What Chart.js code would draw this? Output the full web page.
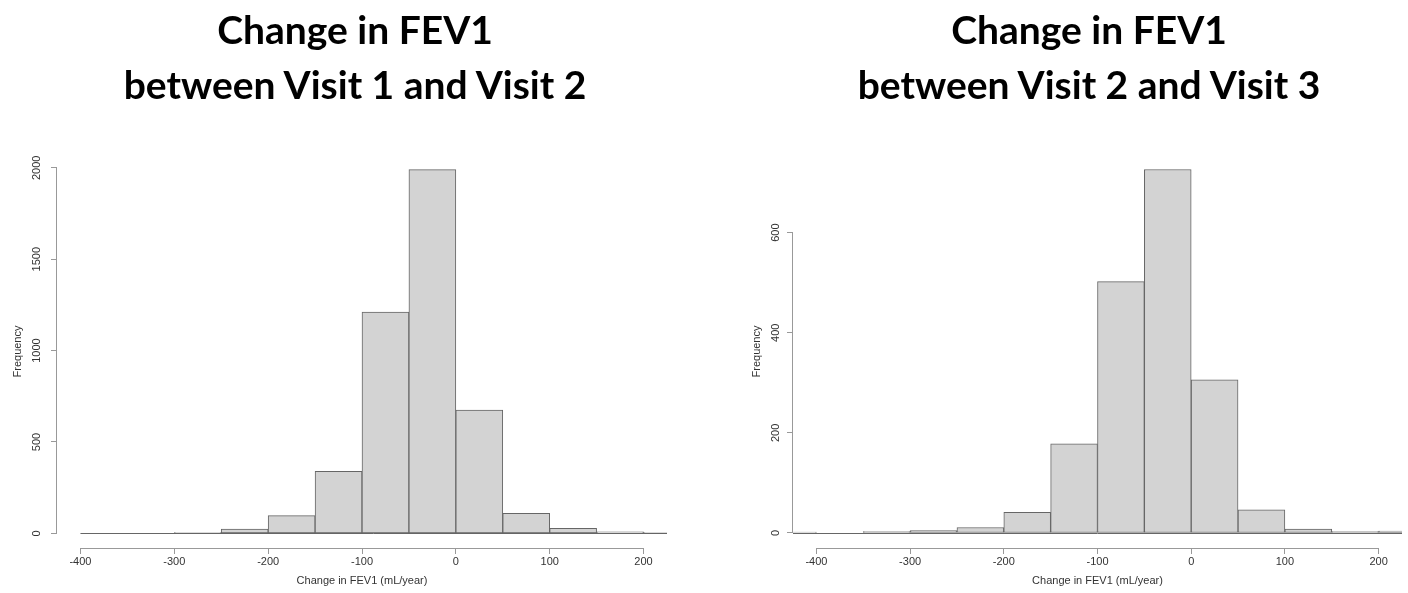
<!DOCTYPE html>
<html lang="en">
<head>
<meta charset="UTF-8">
<title>Change in FEV1</title>
<style>
  html, body { margin: 0; padding: 0; background: #fff; }
  body { width: 1408px; height: 593px; position: relative; overflow: hidden; }
  .panel { position: absolute; top: 0; width: 704px; height: 593px; }
  .title { position: absolute; top: 2px; font-family: Lato, sans-serif; font-weight: 700;
           font-size: 39px; line-height: 55px; text-align: center; color: #000; }
</style>
</head>
<body>
<div class="panel" style="left:0"><canvas id="visit12"></canvas></div>
<div class="panel" style="left:704px"><canvas id="visit23"></canvas></div>
<div class="title" style="left:0;width:710px">Change in FEV1<br>between Visit 1 and Visit 2</div>
<div class="title" style="left:770px;width:638px">Change in FEV1<br>between Visit 2 and Visit 3</div>

<script src="https://cdn.jsdelivr.net/npm/chart.js"></script>
<script>
// lower edge of each 50 mL/year bin, and the count in it
const binStarts12 = [-400, -350, -300, -250, -200, -150, -100, -50, 0, 50, 100, 150, 200];
const counts12    = [0, 0, 4, 24, 97, 340, 1211, 1990, 674, 110, 27, 8, 4];

const binStarts23 = [-450, -400, -350, -300, -250, -200, -150, -100, -50, 0, 50, 100, 150, 200];
const counts23    = [2, 0, 3, 5, 11, 41, 178, 502, 726, 306, 46, 8, 3, 4];

const xTicks   = [-400, -300, -200, -100, 0, 100, 200];
const yTicks12 = [0, 500, 1000, 1500, 2000];
const yTicks23 = [0, 200, 400, 600];
const binWidth = 50;

Chart.defaults.font.family = '"Liberation Sans", Arial, sans-serif';
Chart.defaults.font.size = 11;
Chart.defaults.color = '#333';

// R-style axes: the axis line only runs from first to last tick,
// and empty bins still show as a flat line at zero
const rAxes = {
    id: 'rAxes',
    beforeDatasetsDraw(chart, args, opts) {
        const {ctx, chartArea, scales: {x, y}} = chart;
        ctx.save();
        ctx.lineWidth = 1;
        ctx.strokeStyle = '#666';
        const y0 = Math.round(y.getPixelForValue(0)) + 0.5;
        ctx.beginPath();
        ctx.moveTo(Math.max(x.getPixelForValue(opts.from), chartArea.left), y0);
        ctx.lineTo(chartArea.right, y0);
        ctx.stroke();

        ctx.strokeStyle = '#999';
        const ty = y.ticks, tx = x.ticks;
        const ax = Math.round(chartArea.left) - 0.5;
        const ay = Math.round(chartArea.bottom) + 0.5;
        ctx.beginPath();
        ctx.moveTo(ax, y.getPixelForValue(ty[0].value));
        ctx.lineTo(ax, y.getPixelForValue(ty[ty.length - 1].value));
        ctx.moveTo(x.getPixelForValue(tx[0].value), ay);
        ctx.lineTo(x.getPixelForValue(tx[tx.length - 1].value), ay);
        ctx.stroke();
        ctx.restore();
    }
};

function histogram(id, starts, counts, yTicks, yMin, yMax, pad, yWidth) {
    return new Chart(document.getElementById(id), {
        type: 'bar',
        data: {
            datasets: [{
                data: starts.map((s, i) => ({x: s + binWidth / 2, y: counts[i]})),
                backgroundColor: '#d3d3d3',
                borderColor: '#666',
                borderWidth: 1,
                borderSkipped: false,
                barPercentage: 1,
                categoryPercentage: 1
            }]
        },
        options: {
            responsive: true,
            maintainAspectRatio: false,
            animation: false,
            layout: { padding: pad },
            plugins: {
                legend: { display: false },
                tooltip: { enabled: false },
                rAxes: { from: starts[0] }
            },
            scales: {
                x: {
                    type: 'linear',
                    min: -425,
                    max: 225,
                    offset: false,
                    afterBuildTicks: s => { s.ticks = xTicks.map(v => ({value: v})); },
                    afterFit: s => { s.height = 45; },
                    border: { display: false },
                    grid: { offset: false, drawOnChartArea: false, tickLength: 6, color: '#999' },
                    ticks: { padding: 1, maxRotation: 0, autoSkip: false, callback: v => String(v) },
                    title: {
                        display: true,
                        text: 'Change in FEV1 (mL/year)',
                        padding: { top: 0, bottom: 5 }
                    }
                },
                y: {
                    min: yMin,
                    max: yMax,
                    afterBuildTicks: s => { s.ticks = yTicks.map(v => ({value: v})); },
                    afterFit: s => { s.width = yWidth; },
                    border: { display: false },
                    grid: { drawOnChartArea: false, tickLength: 6, color: '#999' },
                    ticks: {
                        minRotation: 90,
                        maxRotation: 90,
                        crossAlign: 'center',
                        padding: 2,
                        autoSkip: false,
                        callback: v => String(v)
                    },
                    title: {
                        display: true,
                        text: 'Frequency',
                        padding: { top: 11, bottom: 0 }
                    }
                }
            }
        },
        plugins: [rAxes]
    });
}

histogram('visit12', binStarts12, counts12, yTicks12, -80, 2070,
    { top: 155, right: 37, left: 0, bottom: 0 }, 57);
histogram('visit23', binStarts23, counts23, yTicks23, -30, 755,
    { top: 155, right: 6, left: 35, bottom: 0 }, 54);
</script>
</body>
</html>
